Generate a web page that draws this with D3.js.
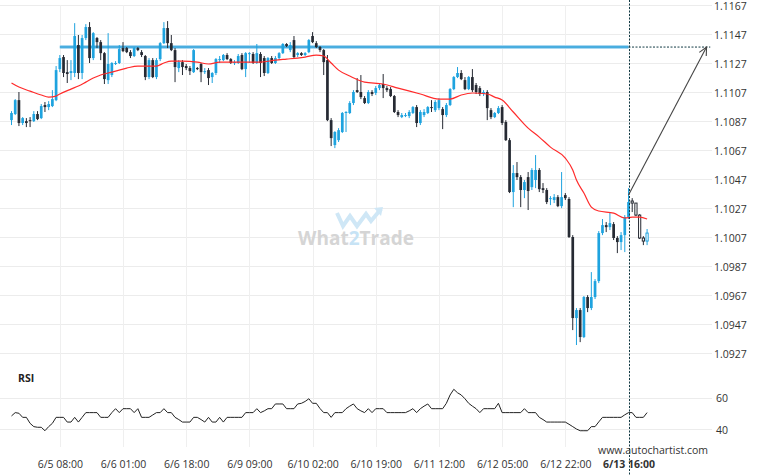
<!DOCTYPE html>
<html><head><meta charset="utf-8">
<script src="https://cdn.jsdelivr.net/npm/d3@7"></script>
<style>body{margin:0;background:#fff}svg{display:block}text{font-family:"Open Sans","Noto Sans",sans-serif}</style>
</head><body><svg id="c" width="760" height="475"></svg>
<script>
const opens=[1.10876,1.10918,1.11014,1.10856,1.10869,1.10876,1.10869,1.10918,1.10890,1.10980,
1.10966,1.10973,1.11014,1.11228,1.11311,1.11207,1.11201,1.11201,1.11394,1.11201,
1.11442,1.11518,1.11304,1.11442,1.11414,1.11338,1.11152,1.11187,1.11263,1.11270,
1.11373,1.11373,1.11345,1.11318,1.11373,1.11345,1.11318,1.11173,1.11290,1.11173,
1.11297,1.11407,1.11511,1.11407,1.11359,1.11235,1.11276,1.11249,1.11235,1.11207,
1.11235,1.11263,1.11207,1.11221,1.11173,1.11201,1.11290,1.11290,1.11325,1.11297,
1.11270,1.11270,1.11325,1.11228,1.11332,1.11332,1.11270,1.11332,1.11304,1.11201,
1.11304,1.11270,1.11304,1.11338,1.11401,1.11359,1.11428,1.11325,1.11338,1.11325,
1.11345,1.11456,1.11407,1.11380,1.11359,1.11290,1.10876,1.10704,1.10738,1.10794,
1.10925,1.10925,1.10994,1.11083,1.11070,1.11028,1.10994,1.11070,1.11063,1.11097,
1.11125,1.11097,1.11090,1.11042,1.10932,1.10897,1.10904,1.10904,1.10925,1.10966,
1.10856,1.10911,1.10925,1.10966,1.10945,1.10959,1.10952,1.10911,1.10980,1.11090,
1.11173,1.11201,1.11152,1.11090,1.11173,1.11118,1.11097,1.11056,1.11070,1.10945,
1.10897,1.10925,1.10966,1.10863,1.10738,1.10380,1.10511,1.10483,1.10394,1.10483,
1.10414,1.10463,1.10532,1.10407,1.10394,1.10332,1.10325,1.10345,1.10283,1.10359,
1.10332,1.10070,1.09511,1.09566,1.09380,1.09656,1.09580,1.09656,1.09766,1.10097,
1.10152,1.10138,1.10159,1.10063,1.10035,1.10083,1.10207,1.10318,1.10304,1.10221,
1.10063,1.10042];
const highs=[1.10938,1.11021,1.11070,1.10897,1.10890,1.10897,1.10938,1.10938,1.10987,1.11001,
1.11007,1.11083,1.11249,1.11325,1.11325,1.11290,1.11290,1.11545,1.11463,1.11463,
1.11538,1.11552,1.11483,1.11449,1.11428,1.11345,1.11476,1.11276,1.11283,1.11394,
1.11414,1.11380,1.11359,1.11380,1.11380,1.11359,1.11325,1.11304,1.11304,1.11304,
1.11414,1.11552,1.11559,1.11463,1.11373,1.11290,1.11290,1.11263,1.11249,1.11366,
1.11242,1.11270,1.11235,1.11235,1.11207,1.11304,1.11318,1.11332,1.11338,1.11304,
1.11290,1.11332,1.11338,1.11345,1.11345,1.11345,1.11401,1.11345,1.11318,1.11311,
1.11318,1.11318,1.11345,1.11407,1.11407,1.11414,1.11456,1.11345,1.11345,1.11345,
1.11435,1.11483,1.11421,1.11387,1.11366,1.11325,1.10890,1.10800,1.10821,1.10932,
1.10938,1.11007,1.11083,1.11166,1.11187,1.11042,1.11083,1.11083,1.11111,1.11125,
1.11194,1.11111,1.11104,1.11049,1.10945,1.10925,1.10925,1.10945,1.10973,1.10980,
1.10945,1.10952,1.10973,1.11014,1.11014,1.11028,1.10966,1.10994,1.11097,1.11180,
1.11242,1.11221,1.11173,1.11180,1.11228,1.11132,1.11111,1.11083,1.11083,1.10959,
1.10932,1.10973,1.10980,1.10876,1.10752,1.10566,1.10587,1.10497,1.10463,1.10518,
1.10545,1.10635,1.10545,1.10442,1.10407,1.10352,1.10366,1.10359,1.10518,1.10373,
1.10345,1.10083,1.09580,1.09580,1.09663,1.09669,1.09828,1.09780,1.10111,1.10194,
1.10173,1.10242,1.10173,1.10076,1.10104,1.10221,1.10407,1.10338,1.10304,1.10228,
1.10076,1.10125];
const lows=[1.10842,1.10911,1.10835,1.10842,1.10828,1.10828,1.10863,1.10876,1.10883,1.10932,
1.10945,1.10966,1.11007,1.11207,1.11173,1.11132,1.11152,1.11173,1.11159,1.11159,
1.11428,1.11270,1.11290,1.11373,1.11290,1.11125,1.11125,1.11173,1.11256,1.11263,
1.11345,1.11338,1.11304,1.11311,1.11352,1.11311,1.11152,1.11159,1.11166,1.11159,
1.11283,1.11401,1.11373,1.11352,1.11138,1.11207,1.11187,1.11221,1.11187,1.11201,
1.11221,1.11138,1.11194,1.11118,1.11132,1.11187,1.11270,1.11283,1.11290,1.11263,
1.11256,1.11263,1.11221,1.11173,1.11270,1.11263,1.11263,1.11173,1.11180,1.11194,
1.11263,1.11263,1.11290,1.11332,1.11380,1.11345,1.11304,1.11311,1.11318,1.11318,
1.11338,1.11407,1.11373,1.11345,1.11187,1.10869,1.10697,1.10683,1.10725,1.10787,
1.10794,1.10918,1.10980,1.11063,1.11021,1.10987,1.10987,1.11042,1.11049,1.11083,
1.11028,1.11070,1.11035,1.10925,1.10897,1.10890,1.10897,1.10890,1.10918,1.10828,
1.10842,1.10897,1.10918,1.10932,1.10932,1.10945,1.10814,1.10897,1.10973,1.11083,
1.11166,1.11152,1.11083,1.11083,1.11070,1.11056,1.11042,1.11042,1.10876,1.10883,
1.10890,1.10918,1.10842,1.10732,1.10373,1.10276,1.10463,1.10276,1.10338,1.10256,
1.10394,1.10407,1.10380,1.10373,1.10297,1.10290,1.10304,1.10276,1.10269,1.10325,
1.10063,1.09428,1.09325,1.09345,1.09373,1.09552,1.09566,1.09642,1.09752,1.10083,
1.10104,1.10118,1.10049,1.09959,1.09980,1.09966,1.10194,1.10242,1.10214,1.10056,
1.10014,1.10014];
const closes=[1.10925,1.11014,1.10856,1.10890,1.10856,1.10869,1.10918,1.10883,1.10973,1.10966,
1.10987,1.11021,1.11221,1.11304,1.11201,1.11194,1.11214,1.11456,1.11201,1.11442,
1.11518,1.11304,1.11476,1.11414,1.11338,1.11159,1.11263,1.11270,1.11270,1.11366,
1.11352,1.11345,1.11318,1.11373,1.11359,1.11325,1.11173,1.11290,1.11173,1.11290,
1.11407,1.11511,1.11407,1.11359,1.11242,1.11276,1.11242,1.11235,1.11214,1.11359,
1.11228,1.11207,1.11214,1.11166,1.11201,1.11297,1.11297,1.11325,1.11297,1.11270,
1.11276,1.11318,1.11228,1.11338,1.11338,1.11270,1.11338,1.11270,1.11201,1.11304,
1.11270,1.11304,1.11338,1.11401,1.11387,1.11394,1.11311,1.11338,1.11325,1.11338,
1.11428,1.11414,1.11380,1.11359,1.11276,1.10876,1.10752,1.10794,1.10807,1.10925,
1.10932,1.10994,1.11070,1.11070,1.11035,1.10994,1.11070,1.11056,1.11097,1.11118,
1.11097,1.11083,1.11042,1.10932,1.10911,1.10911,1.10911,1.10932,1.10966,1.10856,
1.10932,1.10932,1.10966,1.10959,1.11001,1.11014,1.10911,1.10980,1.11090,1.11173,
1.11201,1.11159,1.11090,1.11173,1.11083,1.11070,1.11056,1.11070,1.10959,1.10897,
1.10925,1.10959,1.10856,1.10738,1.10380,1.10511,1.10483,1.10394,1.10449,1.10387,
1.10532,1.10532,1.10400,1.10394,1.10311,1.10338,1.10345,1.10283,1.10345,1.10338,
1.10070,1.09511,1.09566,1.09380,1.09656,1.09580,1.09656,1.09766,1.10097,1.10152,
1.10138,1.10166,1.10063,1.10035,1.10083,1.10207,1.10311,1.10304,1.10221,1.10063,
1.10042,1.10097];
// moving average, read at sampled candles
const maIdx=[0,2,5,8,10,12,13,16,18,20,22,24,26,28,31,34,36,39,41,43,46,50,53,56,62,67,71,74,77,79,82,84,86,88,91,95,100,104,110,115,118,121,124,128,130,132,135,139,142,145,149,151,152,154,156,158,162,165,167,169,171];
const maVal=[1.11132,1.11104,1.11076,1.11049,1.11035,1.11042,1.11056,1.11090,1.11111,1.11138,1.11166,1.11187,1.11201,1.11214,1.11235,1.11249,1.11249,1.11249,1.11270,1.11283,1.11283,1.11276,1.11263,1.11276,1.11276,1.11276,1.11290,1.11297,1.11304,1.11311,1.11325,1.11318,1.11270,1.11221,1.11180,1.11138,1.11125,1.11097,1.11056,1.11021,1.11021,1.11049,1.11063,1.11056,1.11035,1.11014,1.10932,1.10821,1.10759,1.10690,1.10614,1.10532,1.10463,1.10373,1.10276,1.10249,1.10235,1.10201,1.10207,1.10207,1.10194];
const rsi=[48.3,50.4,50,47.4,47.4,43.6,41.5,41.1,41.1,38.9,
41.5,43.6,47.4,47.4,47.4,44.4,44.4,47.4,44.4,47.4,
50.4,50.4,50.4,50.4,47.4,47.4,47.4,50.4,52.9,50.4,
52.9,52.9,52.9,50.4,52.9,47.4,47.4,47.4,48.9,50.4,
50.4,52.9,50.4,50.4,47.4,46,44.4,44.4,44.4,47.4,
47.4,46,44.4,47.4,44.4,44.4,47.4,44.4,47.4,47.4,
47.4,47.4,47.4,50.4,50.4,50.4,52.9,50.4,51.5,52.9,
52.9,55.9,55.9,55.9,52.9,52.9,52.9,55.9,56.3,57.5,
59.2,56.3,56.3,53,50.4,50.4,47.4,50.4,50.4,50.4,
52.9,54.5,55.9,52.9,51.5,50.4,52.9,50.4,52.9,52.9,
52.9,50.4,50.4,50.4,50.4,50.4,50.4,51.5,52.9,50.4,
52.9,54.5,55.9,52.9,52.9,52.9,52.9,56.3,61.6,65.2,
63,61.6,59.2,56.3,54.5,52.9,50.4,52.9,52.9,52.9,
52.9,56.3,50.4,50.4,50.4,50.4,50.4,50.4,52.9,50.4,
50.4,50.4,47.4,46,44.4,44.4,44.4,44.4,44.4,44.4,
43,41.5,40,38.9,38.9,38.9,41.5,41.5,44.5,47.4,
47.4,47.4,47.4,47.4,47.4,49,50.4,50.4,47.4,47.4,
47.4,50.4];
const yTicks=[1.0927,1.0947,1.0967,1.0987,1.1007,1.1027,1.1047,1.1067,1.1087,1.1107,1.1127,1.1147,1.1167];
const rsiTicks=[40,60];
const xTickIdx=[13,30,47,64,81,98,115,132,149,166];
const xTickLabels=["6/5 08:00","6/6 01:00","6/6 18:00","6/9 09:00","6/10 02:00","6/10 19:00","6/11 12:00","6/12 05:00","6/12 22:00","6/13 16:00"];
const resistance=1.1138, resStartIdx=13, breakIdx=166, projEndIdx=188;
const arrowFrom=[166,1.1036], arrowTo=[187,1.1138];

const svg=d3.select("#c");
const x=d3.scaleLinear().domain([0,166]).range([11.5,628.5]);
const y=d3.scaleLinear().domain([1.0927,1.1167]).range([353,5]);
const yr=d3.scaleLinear().domain([40,60]).range([429,397.5]);
const W=712;

// grid
const g=svg.append("g");
g.selectAll(".hg").data(yTicks).join("line").attr("x1",0).attr("x2",W)
 .attr("y1",d=>Math.round(y(d))+0.5).attr("y2",d=>Math.round(y(d))+0.5).attr("stroke","#ececec");
g.selectAll(".rg").data(rsiTicks).join("line").attr("x1",0).attr("x2",W)
 .attr("y1",d=>Math.round(yr(d))+0.5).attr("y2",d=>Math.round(yr(d))+0.5).attr("stroke","#ececec");
g.selectAll(".vg").data(xTickIdx).join("line").attr("y1",5).attr("y2",447)
 .attr("x1",d=>Math.round(x(d))+0.5).attr("x2",d=>Math.round(x(d))+0.5).attr("stroke","#efefef");

// watermark
const wm=svg.append("g").attr("opacity",1);
wm.append("path").attr("d","M337,213 L343,226 L350,216 L357,226 L366,214 L371,221 L381,209")
 .attr("fill","none").attr("stroke","#cfe7f6").attr("stroke-width",4).attr("stroke-linejoin","miter");
wm.append("path").attr("d","M374,208 L383,207 L381,216 Z").attr("fill","#cfe7f6");
const wt=wm.append("text").attr("x",356).attr("y",245).attr("text-anchor","middle")
 .attr("font-size",19).attr("font-weight",700).attr("fill","#d5d5d5");
wt.append("tspan").text("What");
wt.append("tspan").attr("fill","#c7e3f5").text("2");
wt.append("tspan").text("Trade");

// y axis labels
const ya=svg.append("g").attr("transform",`translate(${W},1.5)`)
 .call(d3.axisRight(y).tickValues(yTicks).tickFormat(d3.format(".4f")).tickSize(0).tickPadding(2));
ya.select(".domain").remove();
ya.selectAll("text").attr("fill","#333").attr("font-size",10.5).attr("font-family","'Open Sans',sans-serif");
const ra=svg.append("g").attr("transform",`translate(${W},1)`)
 .call(d3.axisRight(yr).tickValues(rsiTicks).tickSize(0).tickPadding(4));
ra.select(".domain").remove();
ra.selectAll("text").attr("fill","#333").attr("font-size",10.5).attr("font-family","'Open Sans',sans-serif");

// x axis labels
const xa=svg.append("g").attr("transform","translate(0,458)")
 .call(d3.axisBottom(x).tickValues(xTickIdx).tickFormat((d,i)=>xTickLabels[i]).tickSize(0).tickPadding(3));
xa.select(".domain").remove();
xa.selectAll("text").attr("fill","#333").attr("font-size",10.5).attr("font-family","'Open Sans',sans-serif")
 .attr("font-weight",(d,i)=>i===xTickLabels.length-1?700:400);

// resistance line
svg.append("line").attr("x1",x(resStartIdx)).attr("x2",x(breakIdx)).attr("y1",y(resistance)).attr("y2",y(resistance))
 .attr("stroke","#a9d8f1").attr("stroke-width",4);
svg.append("line").attr("x1",x(resStartIdx)).attr("x2",x(breakIdx)).attr("y1",y(resistance)).attr("y2",y(resistance))
 .attr("stroke","#2a9fd9").attr("stroke-width",1.6);
svg.append("line").attr("x1",x(breakIdx)).attr("x2",x(projEndIdx)).attr("y1",y(resistance)).attr("y2",y(resistance))
 .attr("stroke","#123a44").attr("stroke-width",1).attr("stroke-dasharray","2,1.5");

// candles
const N=opens.length;
const idx=d3.range(N);
const blue="#1ea3df", dark="#262a33";
const cg=svg.append("g");
cg.selectAll(".wick").data(idx).join("line")
 .attr("x1",i=>x(i)).attr("x2",i=>x(i)).attr("y1",i=>y(highs[i])).attr("y2",i=>y(lows[i]))
 .attr("stroke",i=>closes[i]>=opens[i]?blue:dark).attr("stroke-width",1);
cg.selectAll(".body").data(idx).join("rect")
 .attr("x",i=>x(i)-(i>breakIdx?1.1:1.35)).attr("width",i=>i>breakIdx?2.2:2.7)
 .attr("y",i=>y(Math.max(opens[i],closes[i])))
 .attr("height",i=>Math.max(1,Math.abs(y(opens[i])-y(closes[i]))))
 .attr("fill",i=>i>breakIdx?"#fff":(closes[i]>=opens[i]?blue:dark))
 .attr("stroke",i=>i>breakIdx?(closes[i]>=opens[i]?blue:dark):"none").attr("stroke-width",1);

// MA
svg.append("path").datum(maIdx.map((d,k)=>[d,maVal[k]]))
 .attr("d",d3.line().x(d=>x(d[0])).y(d=>y(d[1])).curve(d3.curveMonotoneX))
 .attr("fill","none").attr("stroke","#ff2b2b").attr("stroke-width",1.2);

// RSI
svg.append("path").datum(rsi)
 .attr("d",d3.line().x((d,i)=>x(i)).y(d=>yr(d)))
 .attr("fill","none").attr("stroke","#222").attr("stroke-width",1);
svg.append("text").attr("x",18).attr("y",382).text("RSI").attr("font-size",10.5).attr("font-weight",700).attr("fill","#222");

// breakout vertical line
svg.append("line").attr("x1",Math.round(x(breakIdx))+0.5).attr("x2",Math.round(x(breakIdx))+0.5).attr("y1",0).attr("y2",475)
 .attr("stroke","#123a44").attr("stroke-width",1).attr("stroke-dasharray","2,1.5");

// arrow
const ax1=x(arrowFrom[0]), ay1=y(arrowFrom[1]), ax2=x(arrowTo[0]), ay2=y(arrowTo[1]);
svg.append("line").attr("x1",ax1).attr("y1",ay1).attr("x2",ax2).attr("y2",ay2).attr("stroke","#444").attr("stroke-width",1.1);
const ang=Math.atan2(ay2-ay1,ax2-ax1), L=9;
const p1=[ax2-L*Math.cos(ang-0.45),ay2-L*Math.sin(ang-0.45)], p2=[ax2-L*Math.cos(ang+0.45),ay2-L*Math.sin(ang+0.45)];
svg.append("path").attr("d",`M${p1}L${ax2},${ay2}L${p2}`).attr("fill","none").attr("stroke","#444").attr("stroke-width",1.1);

svg.append("text").attr("x",598).attr("y",454).text("www.autochartist.com").attr("font-size",10.5).attr("fill","#333");
</script></body></html>
